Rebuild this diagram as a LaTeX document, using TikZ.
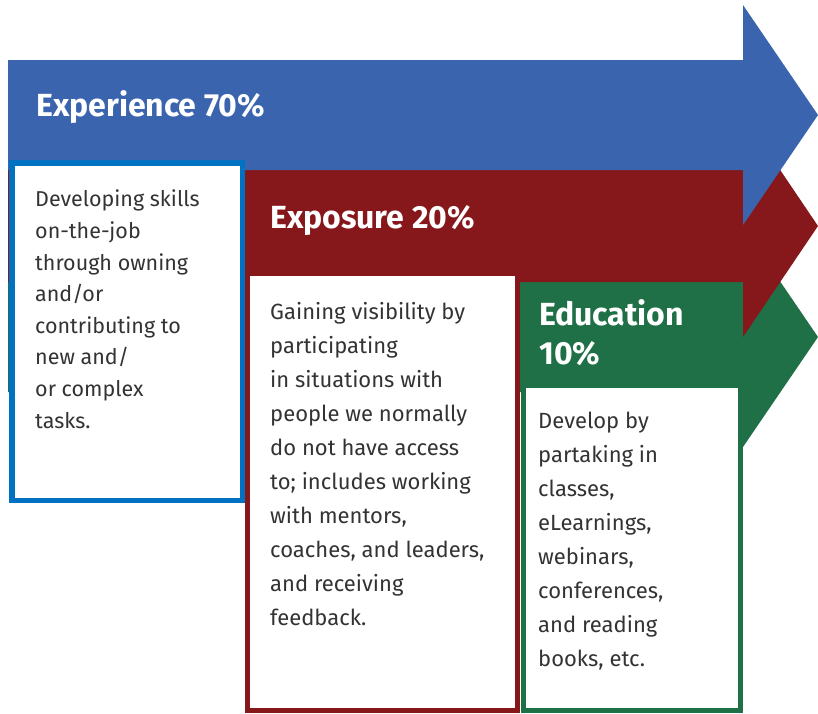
\documentclass[tikz,border=0pt]{standalone}
\usepackage{fontspec}
\setmainfont{Fira Sans}
\usetikzlibrary{positioning}
\definecolor{expblue}{RGB}{58,100,173}
\definecolor{expred}{RGB}{134,24,27}
\definecolor{edugreen}{RGB}{31,112,70}
\definecolor{boxblue}{RGB}{0,114,193}
\definecolor{textgray}{RGB}{51,51,51}

\begin{document}
\begin{tikzpicture}[x=1pt,y=-1pt,
  heading/.style={anchor=base west,inner sep=0pt,text=white,align=left,
    font=\fontsize{32}{39}\selectfont\bfseries},
  body/.style={anchor=base west,inner sep=0pt,text=textgray,align=left,
    font=\fontsize{22}{34}\selectfont}]
\useasboundingbox (0,0) rectangle (818,713);
% arrows, back to front
\fill[edugreen] (8,282) -- (743,282) -- (743,227) -- (818,337) -- (743,447) -- (743,392) -- (8,392) -- cycle;
\fill[expred] (8,170) -- (743,170) -- (743,115) -- (818,226) -- (743,337) -- (743,282) -- (8,282) -- cycle;
\fill[expblue] (8,60) -- (743,60) -- (743,5) -- (818,115) -- (743,225) -- (743,170) -- (8,170) -- cycle;
% boxes
\draw[line width=5.5pt,boxblue,fill=white] (11.75,162.75) rectangle (242.25,500.25);
\draw[line width=5pt,expred,fill=white] (247.5,273.5) rectangle (517.5,710.5);
\draw[line width=5pt,edugreen,fill=white] (523.5,385.5) rectangle (740.5,710.5);
% headings (base = last line)
\node[heading] (expT) at (36,116) {Experience 70\%};
\node[heading] (expoT) at (270,228) {Exposure 20\%};
\node[heading] (eduT) at (539,364) {Education\\10\%};
% texts (base = last line)
\node[body,font=\fontsize{21.5}{31.6}\selectfont] (expB) at (35,428)
 {Developing skills\\on-the-job\\through owning\\and/or\\contributing to\\new and/\\or complex\\tasks.};
\node[body] (expoB) at (270,625)
 {Gaining visibility by\\participating\\in situations with\\people we normally\\do not have access\\to; includes working\\with mentors,\\coaches, and leaders,\\and receiving\\feedback.};
\node[body] (eduB) at (538,666)
 {Develop by\\partaking in\\classes,\\eLearnings,\\webinars,\\conferences,\\and reading\\books, etc.};
\end{tikzpicture}
\end{document}
